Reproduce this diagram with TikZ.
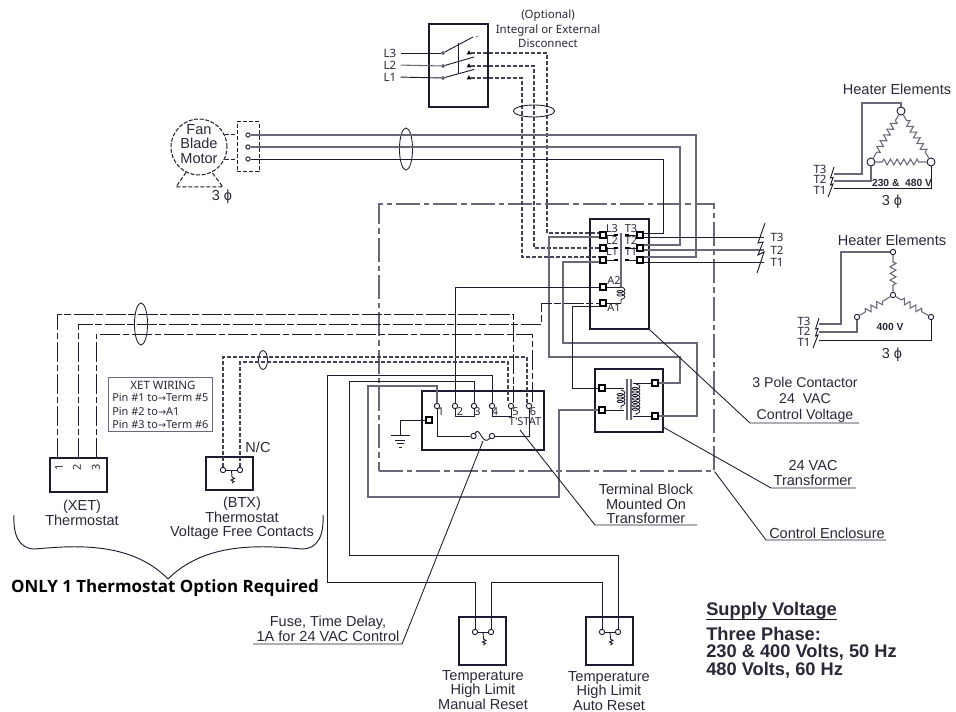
\documentclass[tikz,border=0pt]{standalone}
\usepackage{fontspec}
\setmainfont{Liberation Sans}
\newfontfamily\tahomafont{Noto Sans}
\newfontfamily\tahomabold{Open Sans}
\newfontfamily\arrowfont{DejaVu Sans}
\usetikzlibrary{positioning,calc,shapes.geometric,decorations.pathmorphing}
\definecolor{wiredark}{RGB}{28,28,48}
\definecolor{wiregray}{RGB}{104,104,120}
\definecolor{wiredash}{RGB}{66,66,86}
\definecolor{labelink}{RGB}{40,40,56}
\newcommand{\pinarrow}{{\arrowfont\fontsize{7.2}{9}\selectfont →}}

\begin{document}
\begin{tikzpicture}[x=0.75pt,y=-0.75pt,on grid,
                wire/.style={draw=wiredark, line width=0.7pt},
                graywire/.style={draw=wiregray, line width=0.8pt},
                dashwire/.style={draw=wiredash, line width=0.8pt, dash pattern=on 3pt off 1.5pt},
                dotdashwire/.style={draw=wiredark, line width=0.7pt, dash pattern=on 15pt off 2pt on 5pt off 2pt},
                leaderline/.style={draw=wiredark, line width=0.65pt},
                boxnode/.style={rectangle, draw=wiredark, line width=0.9pt, inner sep=0pt},
                squarenode/.style={rectangle, draw=black, fill=white, line width=1.1pt, minimum size=4.2pt, inner sep=0pt},
                dotnode/.style={circle, draw=wiredark, fill=white, line width=0.7pt, minimum size=4pt, inner sep=0pt},
                tinydot/.style={circle, draw=wiregray, fill=wiregray, minimum size=2.5pt, inner sep=0pt},
                tipnode/.style={regular polygon, regular polygon sides=3, fill=black, minimum size=4pt, inner sep=0pt},
                bigdot/.style={circle, draw=wiredark, fill=white, line width=0.7pt, minimum size=6pt, inner sep=0pt},
                labelnode/.style={inner sep=0pt, align=center, text=labelink, font=\fontsize{10.9}{10.9}\selectfont},
                tahomalabel/.style={inner sep=0pt, align=center, text=labelink, font=\tahomafont\fontsize{8.6}{11}\selectfont},
                pinlabel/.style={inner sep=0pt, text=labelink, font=\tahomafont\fontsize{8.2}{10}\selectfont},
                boldlabel/.style={inner sep=0pt, align=left, text=labelink, font=\bfseries\fontsize{13.7}{13.1}\selectfont},
                voltlabel/.style={inner sep=0pt, text=labelink, font=\bfseries\fontsize{7.7}{9}\selectfont},
                heaterzig/.style={graywire, decorate, decoration={zigzag, segment length=5pt, amplitude=2.2pt, pre length=5pt, post length=5pt}},
                coilwire/.style={draw=wiredark, line width=0.6pt, decorate, decoration={coil, aspect=0.5, segment length=2.6pt, amplitude=2.9pt}},
            ]
            \useasboundingbox (0,0) rectangle (956,712);
            %Boxes
            \node[rectangle, draw=wiregray, line width=0.85pt, dash pattern=on 18pt off 3pt on 4pt off 3pt, minimum width=251.25pt, minimum height=200.25pt] (enclosure) at (546.5,337.5) {};
            \node[boxnode, minimum width=44.25pt, minimum height=62.25pt] (disconnect) at (458.5,65.5) {};
            \node[boxnode, minimum width=44.25pt, minimum height=82.5pt] (contactor) at (619.5,274) {};
            \node[boxnode, minimum width=51pt, minimum height=47.25pt] (transformer) at (629,400.5) {};
            \node[boxnode, minimum width=91.5pt, minimum height=44.25pt] (termblock) at (483,420.5) {};
            \node[boxnode, minimum width=42.75pt, minimum height=25.5pt] (xetbox) at (78.5,475) {};
            \node[boxnode, minimum width=35.25pt, minimum height=24.75pt] (btxbox) at (229.5,473.5) {};
            \node[boxnode, minimum width=35.25pt, minimum height=36pt] (manualbox) at (482.5,641) {};
            \node[boxnode, minimum width=35.25pt, minimum height=36pt] (autobox) at (609.5,641) {};
            \node[boxnode, draw=wiregray, line width=0.7pt, minimum width=78pt, minimum height=40.5pt] (xetwiring) at (160,404) {};
            \node[rectangle, draw=wiredark, line width=0.75pt, dash pattern=on 3pt off 1.5pt, minimum width=16.5pt, minimum height=37.5pt] (motorbox) at (248,147) {};
            \node[circle, draw=wiredark, line width=0.75pt, dash pattern=on 3pt off 1.2pt, minimum size=42pt, inner sep=0pt] (motorbody) at (199,147) {};

            %Nodes
            \node[dotnode, minimum size=3.2pt] (motora) at (248,135) {};
            \node[dotnode, minimum size=3.2pt] (motorb) at (248,147) {};
            \node[dotnode, minimum size=3.2pt] (motorc) at (248,159) {};
            \node[tinydot] (discoa) at (443,53) {};
            \node[tinydot] (discob) at (443,66) {};
            \node[tinydot] (discoc) at (443,78) {};
            \node[tipnode] (discotipa) at (469,53) {};
            \node[tipnode] (discotipb) at (469,66) {};
            \node[tipnode] (discotipc) at (469,78) {};
            \node[squarenode] (conlefta) at (603,235) {};
            \node[squarenode] (conleftb) [below=9.75pt of conlefta] {};
            \node[squarenode] (conleftc) [below=9pt of conleftb] {};
            \node[squarenode] (conrighta) at (640,235) {};
            \node[squarenode] (conrightb) [below=9.75pt of conrighta] {};
            \node[squarenode] (conrightc) [below=9pt of conrightb] {};
            \node[squarenode] (coilaa) at (603,287) {};
            \node[squarenode] (coilab) [below=12pt of coilaa] {};
            \node[squarenode] (xfmra) at (602,388) {};
            \node[squarenode] (xfmrb) [below=16.5pt of xfmra] {};
            \node[squarenode] (xfmrc) at (655,383) {};
            \node[squarenode] (xfmrd) [below=24.75pt of xfmrc] {};
            \node[dotnode] (terma) at (437,406) {};
            \node[dotnode] (termb) [right=13.5pt of terma] {};
            \node[dotnode] (termc) [right=14.25pt of termb] {};
            \node[dotnode] (termd) [right=13.5pt of termc] {};
            \node[dotnode] (terme) [right=14.25pt of termd] {};
            \node[dotnode] (termf) [right=13.5pt of terme] {};
            \node[squarenode] (groundterm) at (429,420) {};
            \node[dotnode] (fusea) at (473.5,436) {};
            \node[dotnode] (fuseb) at (492,436) {};
            \node[dotnode] (btxa) at (223,470) {};
            \node[dotnode] (btxb) at (240,470) {};
            \node[dotnode] (manuala) at (475,632) {};
            \node[dotnode] (manualb) at (491,632) {};
            \node[dotnode] (autoa) at (602,632) {};
            \node[dotnode] (autob) at (618,632) {};
            \node[bigdot] (deltatop) at (901,111) {};
            \node[bigdot] (deltaleft) at (871,162) {};
            \node[bigdot] (deltaright) at (931,162) {};
            \node[dotnode] (wyetop) at (893,252) {};
            \node[dotnode] (wyemid) at (893,295) {};
            \node[dotnode] (wyeleft) at (857,317) {};
            \node[dotnode] (wyeright) at (931,317) {};

            %Labels
            \node[labelnode] (motortext) at (199,144) {Fan\\Blade\\Motor};
            \node[tahomalabel] (optional) at (548,29) {(Optional)\\Integral or External\\Disconnect};
            \node[tahomalabel] (lthree) at (390,53) {L3};
            \node[tahomalabel] (ltwo) at (390,65) {L2};
            \node[tahomalabel] (lone) at (390,77) {L1};
            \node[labelnode] (motorphase) at (222,197) {3 ϕ};
            \foreach \lab/\px/\py in {L3/612/229,L2/612/241,L1/612/252,T3/631/229,T2/631/241,T1/631/252,A2/614/281,A1/614/308}
                \node[pinlabel] (con\lab) at (\px,\py) {\lab};
            \node[tahomalabel] (tthree) at (777,237) {T3};
            \node[tahomalabel] (ttwo) at (777,250) {T2};
            \node[tahomalabel] (tone) at (777,262) {T1};
            \foreach \num/\px in {1/441,2/460,3/477.5,4/495,5/515.5,6/533}
                \node[pinlabel] (termnum\num) at (\px,412) {\num};
            \node[pinlabel] (tstat) at (525,422) {T'STAT};
            \node[pinlabel, rotate=90] (xetnumone) at (59,467) {1};
            \node[pinlabel, rotate=90] (xetnumtwo) at (77,467) {2};
            \node[pinlabel, rotate=90] (xetnumthree) at (96,467) {3};
            \node[tahomalabel] (xethead) at (163,385) {XET WIRING};
            \node[tahomalabel, font=\tahomafont\fontsize{8.2}{11}\selectfont, anchor=west] (pinone) at (112,398) {Pin \#1 to\pinarrow Term \#5};
            \node[tahomalabel, font=\tahomafont\fontsize{8.2}{11}\selectfont, anchor=west] (pintwo) at (112,412) {Pin \#2 to\pinarrow A1};
            \node[tahomalabel, font=\tahomafont\fontsize{8.2}{11}\selectfont, anchor=west] (pinthree) at (112,425) {Pin \#3 to\pinarrow Term \#6};
            \node[labelnode] (nctext) at (258,447) {N/C};
            \node[labelnode] (xetname) at (82,513) {(XET)\\Thermostat};
            \node[labelnode] (btxname) at (242,518.5) {(BTX)\\Thermostat\\Voltage Free Contacts};
            \node[inner sep=0pt, text=black, font=\tahomabold\bfseries\fontsize{12.7}{14}\selectfont] (onlyone) at (165,588) {ONLY 1 Thermostat Option Required};
            \node[labelnode, font=\fontsize{10.6}{12}\selectfont] (contactorname) at (805,400) {3 Pole Contactor\\24\ \ VAC\\Control Voltage};
            \node[labelnode] (xfmrname) at (813,473) {24 VAC\\Transformer};
            \node[labelnode] (enclosurename) at (827,533) {Control Enclosure};
            \node[labelnode] (blockname) at (646,504) {Terminal Block\\Mounted On\\Transformer};
            \node[labelnode] (fusename) at (328,629) {Fuse, Time Delay,\\1A for 24 VAC Control};
            \node[labelnode] (manualname) at (483,690) {Temperature\\High Limit\\Manual Reset};
            \node[labelnode] (autoname) at (609,691) {Temperature\\High Limit\\Auto Reset};
            \node[labelnode] (deltahead) at (897,89) {Heater Elements};
            \node[labelnode] (wyehead) at (892,240) {Heater Elements};
            \node[voltlabel] (deltavolt) at (902,183) {230 \&\ \ 480 V};
            \node[voltlabel] (wyevolt) at (890,327) {400 V};
            \node[labelnode] (deltaphase) at (892,202) {3 ϕ};
            \node[labelnode] (wyephase) at (892,355) {3 ϕ};
            \foreach \lab/\py in {T3/169,T2/179,T1/190}
                \node[tahomalabel] (delta\lab) at (820,\py) {\lab};
            \foreach \lab/\py in {T3/321,T2/331,T1/342}
                \node[tahomalabel] (wye\lab) at (804,\py) {\lab};
            \node[boldlabel] (supplytitle) [anchor=west] at (706,611) {Supply Voltage};
            \node[boldlabel] (supplytext) [anchor=north west] at (706,627) {Three Phase:\\230 \& 400 Volts, 50 Hz\\480 Volts, 60 Hz};

            %Coordinates
            \coordinate (contactorbend) at (750,423);
            \coordinate (contactorend) at (859,423);
            \coordinate (xfmrstart) at (663,427);
            \coordinate (xfmrbend) at (771,488);
            \coordinate (xfmrend) at (856,488);
            \coordinate (tstatstart) at (520,430);
            \coordinate (tstatbend) at (595,525);
            \coordinate (tstatend) at (697,525);
            \coordinate (enclosurebend) at (766,540);
            \coordinate (enclosureend) at (886,540);
            \coordinate (fusemid) at (483,441);
            \coordinate (fusebend) at (402,644);
            \coordinate (fuseend) at (253,644);
            \coordinate (groundtop) at (400,435);
            \coordinate (braceleft) at (14,515);
            \coordinate (braceright) at (323,515);
            \coordinate (bracetip) at (168,579);
            \coordinate (xetpinone) at (57.5,458);
            \coordinate (xetpintwo) at (78.5,458);
            \coordinate (xetpinthree) at (96,458);
            \coordinate (coilup) at (621,287);
            \coordinate (coildown) at (621,303);

            %Lines
            \draw[wire, shorten <=3pt] (lthree.east) -- (discoa);
            \draw[graywire, shorten <=3pt] (ltwo.east) -- (discob);
            \draw[wire, shorten <=3pt] (lone.east) -- (discoc);
            \draw[wire] (discoa) -- (473,37);
            \draw[wire] (discob) -- (474,57);
            \draw[wire] (discoc) -- (474,69.5);
            \draw[wire] (458,73) -- (458,43);
            \fill[black] (477,36.5) circle (0.5pt);
            \draw[dashwire] (discotipa) -| (547,233) -- ([yshift=1.5pt]conlefta.west);
            \draw[dashwire] (discotipb) -| (534,248) -- (conleftb);
            \draw[dashwire] (discotipc) -| (522,257) -- ([yshift=2.25pt]conleftc.west);
            \draw[draw=wiredark, line width=0.65pt] (534,111) ellipse (15.5pt and 4.5pt);
            \draw[draw=wiredark, line width=0.65pt] (406,149) ellipse (4.9pt and 15.75pt);
            \draw[draw=wiredark, line width=0.65pt] (141,324) ellipse (4.9pt and 15.75pt);
            \draw[draw=wiredark, line width=0.65pt] (263,360) ellipse (3.4pt and 7.1pt);

            %Motor
            \draw[graywire] (motora) -| (696,257) -- ([yshift=2.25pt]conrightc.east);
            \draw[graywire] (motorb) -| (680,245) -- ([yshift=2.25pt]conrightb.east);
            \draw[wire] (motorc) -| (663,233) -- ([yshift=1.5pt]conrighta.east);
            \draw[draw=wiredark, line width=0.75pt, dash pattern=on 3pt off 1.5pt] (motorbody.25) -- (motorbody.25 -| motorbox.west);
            \draw[draw=wiredark, line width=0.75pt, dash pattern=on 3pt off 1.5pt] (motorbody.-25) -- (motorbody.-25 -| motorbox.west);
            \draw[draw=wiredark, line width=0.75pt, dash pattern=on 3pt off 1.5pt] (motorbody.-117) -- (176,187) -- (223,187) -- (motorbody.-63);

            %Contactor
            \draw[wire, shorten >=4.5pt] ([yshift=-1.5pt]conrighta.east) -- (tthree.west |- 0,237);
            \draw[graywire, shorten >=4.5pt] ([yshift=-1.5pt]conrightb.east) -- (tthree.west |- 0,250);
            \draw[wire, shorten >=4.5pt] ([yshift=-1.5pt]conrightc.east) -- (tthree.west |- 0,262);
            \draw[wire] (765,223) -- (758,243) -- (763,242) -- (758,255) -- (764,252) -- (757,273);
            \foreach \row in {a,b,c} {
                \draw[wire] (conleft\row) -- +(13,0);
                \draw[wire] (conright\row) -- +(-13,0);
                \draw[line width=1.4pt, draw=black] ($(conleft\row)+(11,0)$) -- +(4,0);
                \draw[line width=1.4pt, draw=black] ($(conright\row)+(-15,0)$) -- +(4,0);
            }
            \draw[graywire] (621,233) -- (coilup);
            \draw[wire] (coilaa) -- (coilup);
            \draw[wire] (coilab) -- (coildown);
            \draw[coilwire] (coilup) -- (coildown);

            %Transformer
            \draw[graywire] (627,379) -- (627,420);
            \draw[graywire] (631,379) -- (631,420);
            \draw[wire] (xfmra) -- (624,388);
            \draw[wire] (xfmrb) -- (624,410);
            \draw[wire] (xfmrc) -- (633,383);
            \draw[wire] (xfmrd) -- (633,416);
            \draw[coilwire] (621,390) -- (621,409);
            \draw[coilwire] (636,384) -- (636,415);
            \draw[graywire] (xfmrc) -| (680,357) -| (549,237) -- ([yshift=-1.5pt]conlefta.west);
            \draw[graywire] (xfmrd) -| (697,343) -| (563,262) -- ([yshift=-1.5pt]conleftc.west);
            \draw[wire] (xfmra) -| (572,306) -- ([yshift=-2.25pt]coilab.west);
            \draw[graywire] (terma) |- (368,386) |- (559,497) |- (xfmrb);

            %Terminal block
            \draw[wire] (termb) |- (coilaa);
            \draw[wire] (termc) |- (349,381) |- (618,555) -- (autob);
            \draw[wire] (termd) |- (327,375) |- (475,582) -- (manuala);
            \draw[wire] (manualb) |- (602,582) -- (autoa);
            \draw[wire] (termb) -- +(0,10.5) -| (termc);
            \draw[wire] (termd) -- +(0,10.5) -| (terme);
            \draw[wire] (terma) |- (fusea);
            \draw[wire] (fuseb) -| (termf);
            \draw[wire] (fusea) .. controls (480,425) and (482,447) .. (fuseb);
            \draw[wire] (groundterm) -| (groundtop);
            \foreach \half/\drop in {9.5/0,5/5,3.5/8.5,1.5/12}
                \draw[wire] ($(groundtop)+(-\half,\drop)$) -- ($(groundtop)+(\half,\drop)$);

            %Thermostats
            \draw[dotdashwire] (xetpinone) |- (513,314) -- ([xshift=1.5pt]terme.north);
            \draw[dotdashwire] (xetpintwo) |- (541,324) |- (coilab);
            \draw[dotdashwire] (xetpinthree) |- (532,334) -- ([xshift=2.25pt]termf.north);
            \draw[dashwire] (btxa) |- (527,357) -- ([xshift=-1.5pt]termf.north);
            \draw[dashwire] (btxb) |- (508,362) -- ([xshift=-2.25pt]terme.north);
            \foreach \sw in {btx,manual,auto} {
                \draw[wire] (\sw a) -- (\sw b);
                \draw[wire] ($(\sw a)!0.5!(\sw b)$) -- ++(0.5,7) -- ++(2.5,1.5) -- ++(-3.5,1.5) -- ++(3,1.5) -- ++(-2,1.5);
            }
            \draw[wire] (braceleft) .. controls (13,535) and (19,549) .. (35,549) .. controls (70,546) and (130,540) .. (bracetip) .. controls (207,540) and (267,546) .. (302,549) .. controls (318,549) and (324,535) .. (braceright);

            %Heaters
            \draw[graywire] (deltaT3.east) ++(7,5) -| (862,103) -| (deltatop);
            \draw[graywire] (deltaT2.east) ++(7,2) -| (deltaleft);
            \draw[wire] (deltaT1.east) ++(7,-2) -| (deltaright);
            \draw[heaterzig] (deltatop) -- (deltaleft);
            \draw[heaterzig] (deltatop) -- (deltaright);
            \draw[heaterzig] (deltaleft) -- (deltaright);
            \draw[wire] (834,167) -- (830.5,178) -- (833,177.5) -- (830.5,185) -- (833,184) -- (828,197);
            \draw[graywire] (wyeT3.east) ++(8,3) -| (841,252) -- (wyetop);
            \draw[graywire] (wyeT2.east) ++(8,1) -| (wyeleft);
            \draw[wire] (wyeT1.east) ++(8,-2) -| (wyeright);
            \draw[heaterzig] (wyetop) -- (wyemid);
            \draw[heaterzig] (wyeleft) -- (wyemid);
            \draw[heaterzig] (wyemid) -- (wyeright);
            \draw[wire] (819,318) -- (815.5,329) -- (818,328.5) -- (815.5,336) -- (818,335) -- (813,348);

            %Leaders
            \draw[leaderline] (contactor.south east) -- (contactorbend) -- (contactorend);
            \draw[leaderline] (xfmrstart) -- (xfmrbend) -- (xfmrend);
            \draw[leaderline] (tstatstart) -- (tstatbend) -- (tstatend);
            \draw[leaderline] (enclosure.south east) -- (enclosurebend) -- (enclosureend);
            \draw[leaderline] (fusemid) -- (fusebend) -- (fuseend);
            \draw[wire, line width=1pt] ([yshift=-3pt]supplytitle.base west) -- ([yshift=-3pt]supplytitle.base east);
        \end{tikzpicture}
\end{document}
